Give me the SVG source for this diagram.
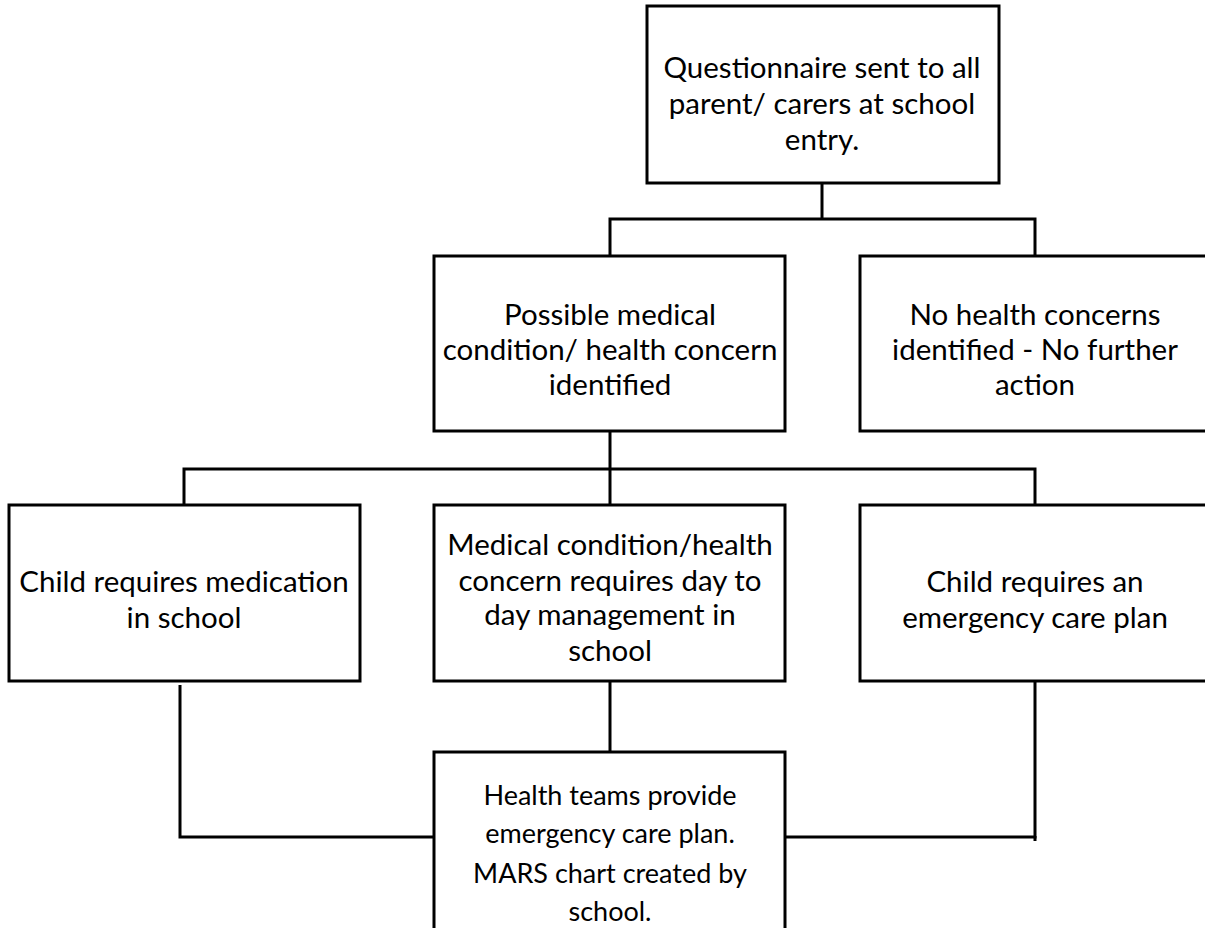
<svg xmlns="http://www.w3.org/2000/svg" width="1205" height="928" viewBox="0 0 1205 928">
<style>
.box{fill:#fff;stroke:#000;stroke-width:3}
.ln{fill:none;stroke:#000;stroke-width:3}
text{font-family:Lato,"Liberation Sans",sans-serif;font-size:29.5px;fill:#000;text-anchor:middle}
.sm{font-size:27px}
</style>
<rect width="1205" height="928" fill="#fff"/>
<g id="connectors">
<polyline class="ln" points="822,183 822,219"/>
<polyline class="ln" points="610,255 610,219 1035,219 1035,255"/>
<polyline class="ln" points="610,431 610,469"/>
<polyline class="ln" points="184,505 184,469 1035,469 1035,505"/>
<polyline class="ln" points="610,469 610,505"/>
<polyline class="ln" points="180,685 180,837 434,837"/>
<polyline class="ln" points="610,681 610,752"/>
<polyline class="ln" points="785,837 1035,837 1035,681"/>
<line class="ln" x1="1035" y1="836" x2="1035" y2="841"/>
</g>
<g id="n1"><rect class="box" x="647" y="6" width="352" height="177"/>
<text x="822" y="78">Questionnaire sent to all</text>
<text x="822" y="114">parent/ carers at school</text>
<text x="822" y="150">entry.</text></g>
<g id="n2"><rect class="box" x="434" y="256" width="351" height="175"/>
<text x="610" y="325">Possible medical</text>
<text x="610" y="360">condition/ health concern</text>
<text x="610" y="395">identified</text></g>
<g id="n3"><rect class="box" x="860" y="256" width="350" height="175"/>
<text x="1035" y="325">No health concerns</text>
<text x="1035" y="360">identified - No further</text>
<text x="1035" y="395">action</text></g>
<g id="n4"><rect class="box" x="9" y="505" width="351" height="176"/>
<text x="184" y="592">Child requires medication</text>
<text x="184" y="628">in school</text></g>
<g id="n5"><rect class="box" x="434" y="505" width="351" height="176"/>
<text x="610" y="555">Medical condition/health</text>
<text x="610" y="591">concern requires day to</text>
<text x="610" y="625">day management in</text>
<text x="610" y="661">school</text></g>
<g id="n6"><rect class="box" x="860" y="505" width="350" height="176"/>
<text x="1035" y="592">Child requires an</text>
<text x="1035" y="628">emergency care plan</text></g>
<g id="n7"><rect class="box" x="434" y="752" width="351" height="185"/>
<text class="sm" x="610" y="805">Health teams provide</text>
<text class="sm" x="610" y="843">emergency care plan.</text>
<text class="sm" x="610" y="883">MARS chart created by</text>
<text class="sm" x="610" y="921">school.</text></g>
</svg>
